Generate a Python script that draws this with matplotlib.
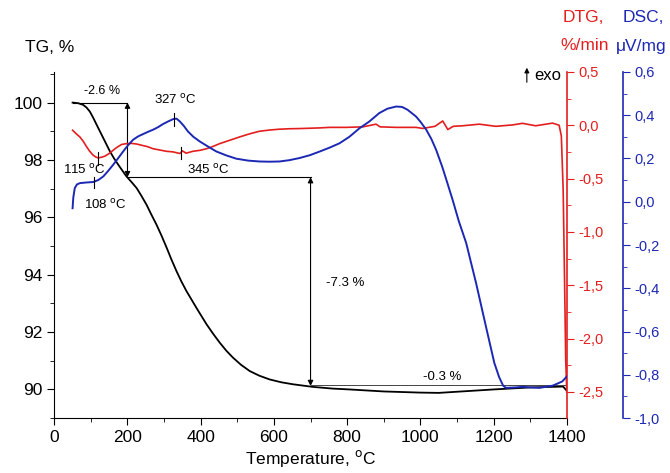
import numpy as np
import matplotlib.pyplot as plt
from matplotlib.ticker import MultipleLocator, FuncFormatter

plt.rcParams['font.family'] = ['Liberation Sans', 'DejaVu Sans']

# TG curve, %
t_tg = [50, 65, 79, 88, 97, 106, 116, 125, 134, 143, 152, 163, 175, 186, 197,
        211, 225, 238, 252, 265, 279, 293, 307, 320, 334, 347, 361, 375, 388,
        402, 416, 434, 452, 470, 488, 510, 534, 560, 588, 620, 652, 706, 760,
        806, 900, 1000, 1050, 1100, 1200, 1300, 1390, 1400]
tg = [100.0, 99.98, 99.92, 99.83, 99.69, 99.48, 99.22, 98.99, 98.76, 98.53,
      98.30, 98.06, 97.83, 97.63, 97.43, 97.23, 97.02, 96.75, 96.44, 96.10,
      95.75, 95.36, 94.94, 94.53, 94.12, 93.77, 93.43, 93.13, 92.85, 92.56,
      92.27, 91.94, 91.63, 91.35, 91.11, 90.86, 90.64, 90.48, 90.35, 90.25,
      90.18, 90.09, 90.03, 90.0, 89.93, 89.89, 89.88, 89.92, 90.0, 90.07,
      90.1, 89.95]

# DTG curve, %/min
t_dtg = [50, 60, 70, 79, 88, 97, 106, 113, 120, 129, 138, 150, 161, 172, 184,
         198, 211, 225, 238, 254, 270, 288, 306, 325, 343, 350, 360, 379, 398,
         416, 434, 452, 480, 506, 534, 561, 588, 615, 642, 670, 698, 725, 752,
         797, 843, 879, 890, 934, 988, 1006, 1040, 1061, 1075, 1090, 1115, 1161,
         1206, 1252, 1279, 1315, 1361, 1379, 1385, 1390, 1394, 1397, 1400]
dtg = [-0.047, -0.08, -0.11, -0.15, -0.20, -0.245, -0.28, -0.297, -0.306,
       -0.30, -0.29, -0.265, -0.234, -0.205, -0.18, -0.172, -0.17, -0.176,
       -0.187, -0.20, -0.22, -0.232, -0.244, -0.25, -0.265, -0.24, -0.262,
       -0.244, -0.235, -0.22, -0.198, -0.172, -0.14, -0.11, -0.08, -0.056,
       -0.045, -0.037, -0.033, -0.031, -0.028, -0.025, -0.02, -0.02, -0.015,
       0.01, -0.015, -0.02, -0.02, -0.03, -0.01, 0.04, -0.04, -0.01, -0.005,
       0.01, -0.01, 0.003, 0.018, -0.005, 0.02, 0.0, -0.1, -0.6, -1.5, -2.2,
       -2.5]

# DSC curve, uV/mg
t_dsc = [50, 52, 56, 62, 70, 88, 106, 120, 134, 147, 161, 174, 188, 201, 215,
         229, 243, 256, 270, 284, 297, 311, 325, 334, 343, 354, 365, 380, 397,
         420, 443, 470, 497, 530, 561, 588, 615, 642, 670, 698, 725, 752, 779,
         806, 834, 860, 888, 910, 934, 950, 965, 988, 1000, 1016, 1030, 1043,
         1060, 1074, 1088, 1105, 1125, 1152, 1179, 1202, 1215, 1226, 1234, 1260,
         1279, 1300, 1325, 1345, 1361, 1375, 1388, 1400]
dsc = [-0.03, 0.02, 0.063, 0.08, 0.086, 0.089, 0.091, 0.10, 0.117, 0.142,
       0.171, 0.20, 0.232, 0.26, 0.286, 0.302, 0.313, 0.323, 0.333, 0.345,
       0.359, 0.371, 0.382, 0.384, 0.371, 0.35, 0.325, 0.30, 0.279, 0.255,
       0.232, 0.214, 0.199, 0.19, 0.186, 0.185, 0.186, 0.192, 0.202, 0.215,
       0.232, 0.25, 0.27, 0.30, 0.34, 0.37, 0.41, 0.43, 0.44, 0.438, 0.425,
       0.394, 0.37, 0.333, 0.29, 0.24, 0.16, 0.085, 0.009, -0.09, -0.19,
       -0.375, -0.576, -0.745, -0.81, -0.85, -0.86, -0.858, -0.855, -0.858,
       -0.86, -0.855, -0.85, -0.84, -0.83, -0.807]

RED = '#e41e1e'
BLUE = '#1c28b4'


def comma(v, pos):
    if abs(v) < 1e-9:
        v = 0.0
    return f'{v:.1f}'.replace('.', ',')


fig = plt.figure(figsize=(6.7, 4.73), dpi=100)
ax = fig.add_axes([0.081, 0.116, 0.765, 0.732])
ax2 = ax.twinx()
ax3 = ax.twinx()

ax.plot(t_tg, tg, color='black', lw=1.3)
ax2.plot(t_dtg, dtg, color=RED, lw=1.2)
ax3.plot(t_dsc, dsc, color=BLUE, lw=1.4)

ax.set_xlim(0, 1400)
ax.set_ylim(89.0, 101.07)
ax2.set_ylim(-2.745, 0.5)
ax3.set_ylim(-1.0, 0.6)

# main axes
for s in ['top', 'right']:
    ax.spines[s].set_visible(False)
ax.xaxis.set_major_locator(MultipleLocator(200))
ax.xaxis.set_minor_locator(MultipleLocator(100))
ax.yaxis.set_major_locator(MultipleLocator(2))
ax.yaxis.set_minor_locator(MultipleLocator(1))
ax.tick_params(which='major', direction='out', length=5, labelsize=12.5)
ax.tick_params(which='minor', direction='out', length=3)
ax.set_xlabel('Temperature, $^{\\mathrm{o}}$C', fontsize=12.5, labelpad=2)

# DTG axis
for s in ['top', 'left', 'bottom']:
    ax2.spines[s].set_visible(False)
ax2.spines['right'].set_color(RED)
ax2.spines['right'].set_linewidth(1.2)
ax2.yaxis.set_major_locator(MultipleLocator(0.5))
ax2.yaxis.set_minor_locator(MultipleLocator(0.25))
ax2.yaxis.set_major_formatter(FuncFormatter(comma))
ax2.tick_params(which='both', colors=RED, labelsize=10.5)
ax2.tick_params(which='major', length=5)
ax2.tick_params(which='minor', length=3)

# DSC axis
for s in ['top', 'left', 'bottom']:
    ax3.spines[s].set_visible(False)
ax3.spines['right'].set_position(('outward', 40.3))
ax3.spines['right'].set_color(BLUE)
ax3.spines['right'].set_linewidth(1.2)
ax3.yaxis.set_major_locator(MultipleLocator(0.2))
ax3.yaxis.set_minor_locator(MultipleLocator(0.1))
ax3.yaxis.set_major_formatter(FuncFormatter(comma))
ax3.tick_params(which='both', colors=BLUE, labelsize=10.5)
ax3.tick_params(which='major', length=5)
ax3.tick_params(which='minor', length=3)

# mass loss steps
arrow = dict(arrowstyle='<|-|>', color='black', lw=0.8, mutation_scale=8,
             shrinkA=0, shrinkB=0)
ax.plot([50, 200], [100.0, 100.0], color='black', lw=0.8)
ax.annotate('', xy=(200, 97.4), xytext=(200, 100.0), arrowprops=arrow)
ax.plot([200, 700], [97.4, 97.4], color='black', lw=0.8)
ax.annotate('', xy=(700, 90.12), xytext=(700, 97.4), arrowprops=arrow)
ax.plot([700, 1400], [90.15, 90.15], color='#444444', lw=0.7)
ax.text(130, 100.4, '-2.6 %', fontsize=9, ha='center', va='center')
ax.text(795, 93.7, '-7.3 %', fontsize=9.5, ha='center', va='center')
ax.text(1060, 90.45, '-0.3 %', fontsize=9.5, ha='center', va='center')

# peak markers
deg = ' $^{\\mathrm{o}}$C'
ax3.plot([328, 328], [0.35, 0.41], color='black', lw=0.8)
ax3.text(330, 0.47, '327' + deg, fontsize=9.5, ha='center', va='center')
ax3.plot([108, 108], [0.065, 0.115], color='black', lw=0.8)
ax3.text(140, -0.015, '108' + deg, fontsize=9.5, ha='center', va='center')
ax2.plot([120, 120], [-0.25, -0.37], color='black', lw=0.8)
ax2.text(82, -0.42, '115' + deg, fontsize=9.5, ha='center', va='center')
ax2.plot([345, 345], [-0.2, -0.32], color='black', lw=0.8)
ax2.text(420, -0.42, '345' + deg, fontsize=9.5, ha='center', va='center')

# exo arrow
ax.annotate('', xy=(0.922, 1.012), xytext=(0.922, 0.97), xycoords='axes fraction',
            arrowprops=dict(arrowstyle='-|>', color='black', lw=0.8,
                            mutation_scale=7, shrinkA=0, shrinkB=0),
            annotation_clip=False)
ax.text(0.962, 0.99, 'exo', transform=ax.transAxes, fontsize=12,
        ha='center', va='center')

# axis titles
fig.text(25 / 670, 1 - 48 / 473, 'TG, %', fontsize=12.5, va='center')
fig.text(583 / 670, 1 - 17 / 473, 'DTG,', fontsize=12.5, color=RED,
         ha='center', va='center')
fig.text(585 / 670, 1 - 46 / 473, '%/min', fontsize=12.5, color=RED,
         ha='center', va='center')
fig.text(643 / 670, 1 - 17 / 473, 'DSC,', fontsize=12.5, color=BLUE,
         ha='center', va='center')
fig.text(641 / 670, 1 - 46 / 473, '\u03bcV/mg', fontsize=12.5, color=BLUE,
         ha='center', va='center')

fig.savefig('out.png', dpi=100)
